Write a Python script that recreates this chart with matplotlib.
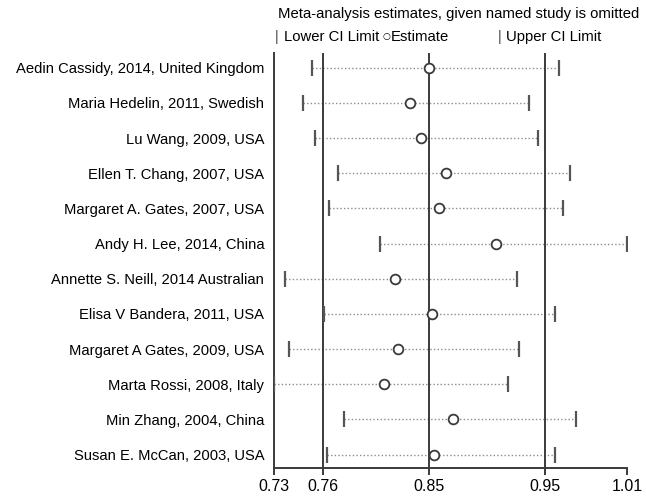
import numpy as np
import matplotlib.pyplot as plt

plt.rcParams['font.family'] = ['Liberation Sans', 'DejaVu Sans']

# Studies (top to bottom) and pooled estimate when each one is left out
studies = [
    'Aedin Cassidy, 2014, United Kingdom',
    'Maria Hedelin, 2011, Swedish',
    'Lu Wang, 2009, USA',
    'Ellen T. Chang, 2007, USA',
    'Margaret A. Gates, 2007, USA',
    'Andy H. Lee, 2014, China',
    'Annette S. Neill, 2014 Australian',
    'Elisa V Bandera, 2011, USA',
    'Margaret A Gates, 2009, USA',
    'Marta Rossi, 2008, Italy',
    'Min Zhang, 2004, China',
    'Susan E. McCan, 2003, USA',
]
estimate = [0.850, 0.834, 0.843, 0.865, 0.859, 0.908, 0.821, 0.853, 0.824, 0.812, 0.871, 0.854]
lower_ci = [0.753, 0.748, 0.755, 0.773, 0.765, 0.808, 0.737, 0.761, 0.739, 0.730, 0.778, 0.763]
upper_ci = [0.960, 0.936, 0.944, 0.968, 0.963, 1.010, 0.926, 0.957, 0.928, 0.918, 0.973, 0.957]

# overall estimate and its CI
overall = [0.76, 0.85, 0.95]
tick_vals = [0.73, 0.76, 0.85, 0.95, 1.01]
tick_labels = ['0.73', '0.76', '0.85', '0.95', '1.01']

# axis spacing of the labelled values (uneven in the original graph)
tick_pos = [0, 49, 155, 271, 353]


def fwd(v):
    return np.interp(v, tick_vals, tick_pos)


def inv(p):
    return np.interp(p, tick_pos, tick_vals)


fig = plt.figure(figsize=(6.46, 4.97), dpi=100)
ax = fig.add_axes([274 / 646, 29 / 497, 353 / 646, 415 / 497])
ax.set_xscale('function', functions=(fwd, inv))
ax.set_xlim(0.73, 1.01)

y = np.arange(1, len(studies) + 1)
ax.set_ylim(12.38, 0.58)

dark = '#3a3a3a'
for v in overall:
    ax.axvline(v, color=dark, lw=1.4, zorder=2)

for yi, lo, est, hi in zip(y, lower_ci, estimate, upper_ci):
    ax.plot([lo, hi], [yi, yi], color='#8c8c8c', lw=1.0, ls=(0, (1, 1.6)), zorder=1)
ax.plot(lower_ci, y, ls='none', marker='|', ms=11, mew=1.6, color='#555555', zorder=3)
ax.plot(upper_ci, y, ls='none', marker='|', ms=11, mew=1.6, color='#555555', zorder=3)
ax.plot(estimate, y, ls='none', marker='o', ms=7, mfc='white', mec=dark, mew=1.3, zorder=4)

ax.set_yticks(y)
ax.set_yticklabels(studies, fontsize=10.6)
ax.tick_params(axis='y', length=0, pad=7)
ax.set_xticks(tick_vals)
ax.set_xticklabels(tick_labels, fontsize=11.5)
ax.tick_params(axis='x', length=5, width=1.4, color=dark, pad=3)

for s in ['top', 'right']:
    ax.spines[s].set_visible(False)
for s in ['left', 'bottom']:
    ax.spines[s].set_color(dark)
    ax.spines[s].set_linewidth(1.4)

# header and key
fig.text(459 / 646, 1 - 14 / 497, 'Meta-analysis estimates, given named study is omitted',
         ha='center', va='center', fontsize=10.7)
ky = 1 - 37 / 497
fig.text(277 / 646, ky, '|', ha='center', va='center', fontsize=10, color='#444444')
fig.text(284 / 646, ky, 'Lower CI Limit', ha='left', va='center', fontsize=10.7)
fig.text(386 / 646, ky, '\u25cb', ha='center', va='center', fontsize=6.5, family=['DejaVu Sans'])
fig.text(391 / 646, ky, 'Estimate', ha='left', va='center', fontsize=10.7)
fig.text(500 / 646, ky, '|', ha='center', va='center', fontsize=10, color='#444444')
fig.text(506 / 646, ky, 'Upper CI Limit', ha='left', va='center', fontsize=10.7)

fig.savefig('out.png', dpi=100)
